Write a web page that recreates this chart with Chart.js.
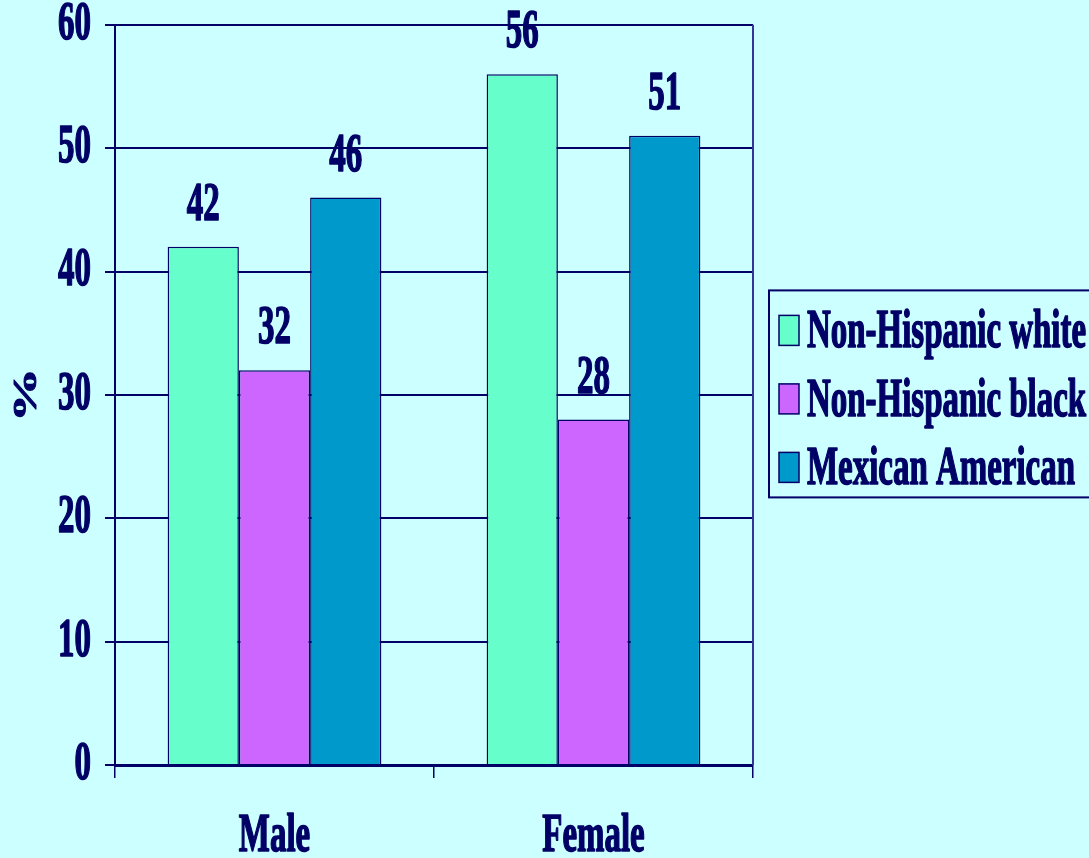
<!DOCTYPE html>
<html>
<head>
<meta charset="utf-8">
<script src="https://cdn.jsdelivr.net/npm/chart.js@4.4.1/dist/chart.umd.min.js"></script>
<style>
  html, body { margin: 0; padding: 0; background: #ccffff; }
  #wrap { width: 1089px; height: 858px; }
</style>
</head>
<body>
<div id="wrap"><canvas id="chart" width="1089" height="858"></canvas></div>
<script>
// data
const categories = ['Male', 'Female'];
const seriesNames = ['Non-Hispanic white', 'Non-Hispanic black', 'Mexican American'];
const whiteValues = [42, 56];
const blackValues = [32, 28];
const mexicanValues = [46, 51];
const seriesColors = ['#66ffcc', '#cc66ff', '#0099cc'];
const yTicks = [0, 10, 20, 30, 40, 50, 60];

const NAVY = '#000066';
const FONT = '"Liberation Serif", "Times New Roman", serif';
const SQUEEZE = 0.61; // the original text is a horizontally squashed Times bold

const canvas = document.getElementById('chart');
const ctx = canvas.getContext('2d');

// squash all text horizontally (in screen space), so it looks like the original
const origFill = ctx.fillText.bind(ctx);
const origStroke = ctx.strokeText.bind(ctx);
const origMeasure = ctx.measureText.bind(ctx);
ctx.fillText = function (text, x, y) {
  const t = this.getTransform();
  const rotated = Math.abs(t.b) > 0.5;
  this.save();
  this.translate(x, y);
  if (rotated) this.scale(1, SQUEEZE); else this.scale(SQUEEZE, 1);
  origFill(text, 0, 0);
  // a thin outline in the text colour to get the heavy look back
  this.strokeStyle = this.fillStyle;
  this.lineWidth = 1.6;
  this.lineJoin = 'round';
  this.setLineDash([]);
  origStroke(text, 0, 0);
  this.restore();
};
ctx.measureText = function (text) {
  const m = origMeasure(text);
  return {
    width: m.width * SQUEEZE,
    actualBoundingBoxAscent: m.actualBoundingBoxAscent,
    actualBoundingBoxDescent: m.actualBoundingBoxDescent
  };
};

// values above the bars
const valueLabels = {
  id: 'valueLabels',
  afterDatasetsDraw(chart) {
    const c = chart.ctx;
    c.save();
    c.font = 'bold 54px ' + FONT;
    c.fillStyle = NAVY;
    c.textAlign = 'center';
    c.textBaseline = 'alphabetic';
    chart.data.datasets.forEach((ds, i) => {
      chart.getDatasetMeta(i).data.forEach((bar, j) => {
        c.fillText(String(ds.data[j]), bar.x, bar.y - 27);
      });
    });
    c.restore();
  }
};

// right frame line of the plot area + boxed legend on the right
const frameAndLegend = {
  id: 'frameAndLegend',
  afterDraw(chart) {
    const c = chart.ctx;
    const area = chart.chartArea;
    c.save();
    c.strokeStyle = '#333399';
    c.lineWidth = 2;
    c.beginPath();
    c.moveTo(area.right, area.top);
    c.lineTo(area.right, area.bottom);
    c.stroke();

    const left = area.right + 16;
    const rowGap = 68.5;
    const boxH = 207;
    const top = (area.top + area.bottom) / 2 - boxH / 2 - 1;
    c.strokeStyle = NAVY;
    c.lineWidth = 2;
    c.strokeRect(left, top, chart.width - left + 20, boxH);

    c.font = 'bold 54px ' + FONT;
    c.textAlign = 'left';
    c.textBaseline = 'alphabetic';
    chart.data.datasets.forEach((ds, i) => {
      const by = top + 25 + i * rowGap;
      c.fillStyle = ds.backgroundColor;
      c.fillRect(left + 10, by, 20, 30);
      c.strokeStyle = NAVY;
      c.lineWidth = 1.5;
      c.strokeRect(left + 10, by, 20, 30);
      c.fillStyle = NAVY;
      c.fillText(ds.label, left + 38, by + 32);
    });
    c.restore();
  }
};

function makeDataset(name, values, color) {
  return {
    label: name,
    data: values,
    backgroundColor: color,
    borderColor: NAVY,
    borderWidth: 1.5,
    borderSkipped: 'bottom'
  };
}

new Chart(ctx, {
  type: 'bar',
  data: {
    labels: categories,
    datasets: [
      makeDataset(seriesNames[0], whiteValues, seriesColors[0]),
      makeDataset(seriesNames[1], blackValues, seriesColors[1]),
      makeDataset(seriesNames[2], mexicanValues, seriesColors[2])
    ]
  },
  options: {
    responsive: false,
    animation: false,
    categoryPercentage: 0.67,
    barPercentage: 1.0,
    layout: { padding: { top: 0, right: 336, bottom: 0, left: 0 } },
    plugins: {
      legend: { display: false },
      tooltip: { enabled: false }
    },
    scales: {
      x: {
        afterFit(scale) { scale.height = 93; },
        grid: {
          offset: true,
          drawOnChartArea: false,
          drawTicks: true,
          tickLength: 13,
          color: NAVY,
          lineWidth: 1.5
        },
        border: { display: true, color: NAVY, width: 3 },
        ticks: {
          color: NAVY,
          font: { family: FONT, size: 54, weight: 'bold', lineHeight: 1 },
          padding: 32
        }
      },
      y: {
        min: 0,
        max: 60,
        afterFit(scale) { scale.width = 115; },
        afterBuildTicks(scale) { scale.ticks = yTicks.map(v => ({ value: v })); },
        grid: {
          color: NAVY,
          lineWidth: 2,
          drawTicks: true,
          tickLength: 10
        },
        border: { display: true, color: NAVY, width: 2 },
        ticks: {
          color: NAVY,
          font: { family: FONT, size: 54, weight: 'bold', lineHeight: 0.4 },
          padding: 14
        },
        title: {
          display: true,
          text: '%',
          color: NAVY,
          font: { family: FONT, size: 54, weight: 'bold', lineHeight: 1 },
          padding: 0
        }
      }
    }
  },
  plugins: [valueLabels, frameAndLegend]
});
</script>
</body>
</html>
